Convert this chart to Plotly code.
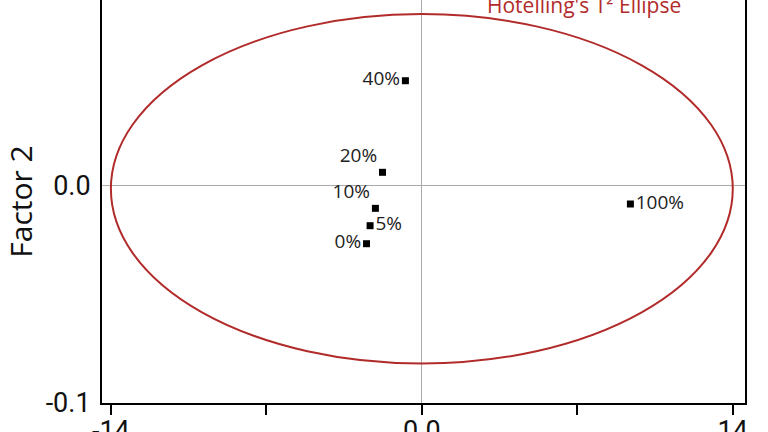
import plotly.graph_objects as go

# Data
labels = ["0%", "5%", "10%", "20%", "40%", "100%"]
factor1 = [-2.49, -2.33, -2.09, -1.77, -0.74, 9.39]
factor2 = [-0.0266, -0.0183, -0.0103, 0.0063, 0.0485, -0.0083]
label_pos = ["middle left", "middle right", "top left", "top left", "middle left", "middle right"]

ellipse_cx = 0.0
ellipse_cy = -0.0013
ellipse_a = 14.0      # semi-axis along Factor 1
ellipse_b = 0.0805    # semi-axis along Factor 2

x_tickvals = [-14, -7, 0, 7, 14]
x_ticktext = ["-14", "", "0.0", "", "14"]
y_tickvals = [-0.1, 0.0]
y_ticktext = ["-0.1", "0.0"]

fig = go.Figure()

fig.add_shape(type="circle", xref="x", yref="y",
              x0=ellipse_cx - ellipse_a, x1=ellipse_cx + ellipse_a,
              y0=ellipse_cy - ellipse_b, y1=ellipse_cy + ellipse_b,
              line=dict(color="#b22b2b", width=2), layer="above")

fig.add_trace(go.Scatter(
    x=factor1, y=factor2, mode="markers+text",
    text=labels, textposition=label_pos,
    marker=dict(symbol="square", size=7, color="black"),
    textfont=dict(family="Open Sans", size=19, color="#222222"),
    showlegend=False, cliponaxis=False, hoverinfo="skip",
))

fig.add_annotation(text="Hotelling's T² Ellipse", xref="x", yref="paper",
                   x=7.3, y=1, yanchor="bottom", yshift=-21, showarrow=False,
                   font=dict(family="Open Sans", size=21, color="#b22b2b"))

fig.update_xaxes(range=[-14.4, 14.55], tickvals=x_tickvals, ticktext=x_ticktext,
                 ticks="outside", ticklen=10, tickwidth=1.5, tickcolor="black",
                 showline=True, linecolor="black", linewidth=2,
                 showgrid=False, zeroline=True, zerolinecolor="#aaaaaa", zerolinewidth=1,
                 tickfont=dict(family="Roboto", size=27, color="#111111"),
                 ticklabelstandoff=-7,
                 automargin=False)
fig.update_yaxes(range=[-0.1, 0.0857], tickvals=y_tickvals, ticktext=y_ticktext,
                 ticks="", showline=True, linecolor="black", linewidth=2, mirror=True,
                 showgrid=False, zeroline=True, zerolinecolor="#aaaaaa", zerolinewidth=1,
                 tickfont=dict(family="Roboto", size=27, color="#111111"),
                 ticklabelstandoff=4,
                 title=dict(text="Factor 2", font=dict(family="Open Sans", size=30, color="#111111"),
                            standoff=11),
                 automargin=False)

fig.update_layout(width=768, height=432, margin=dict(l=102, r=23, t=0, b=29),
                  plot_bgcolor="white", paper_bgcolor="white")

fig.write_html("out.html", config={"displayModeBar": False},
               post_script="document.body.style.margin='0';")
